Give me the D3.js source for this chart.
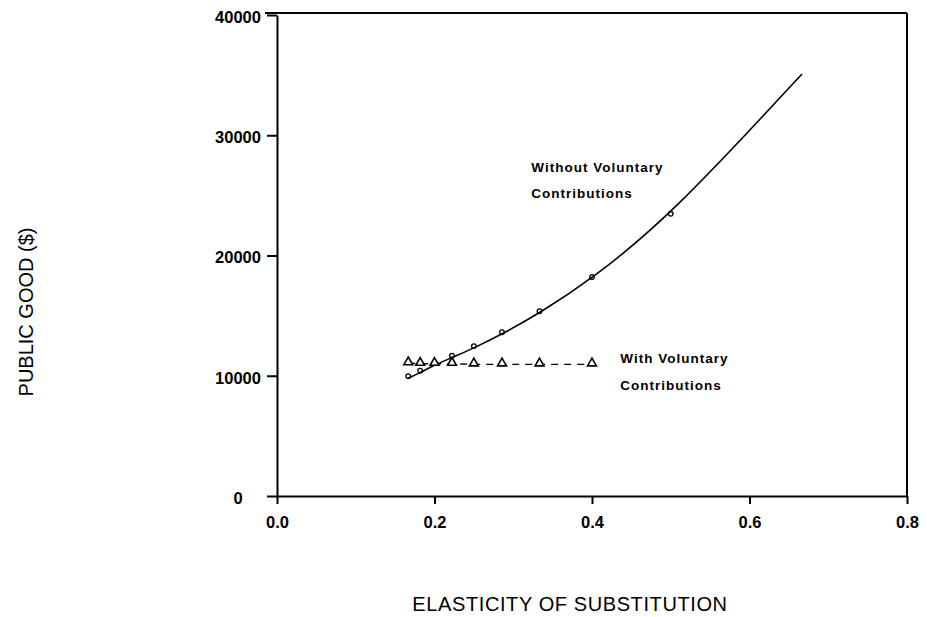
<!DOCTYPE html>
<html>
<head>
<meta charset="utf-8">
<script src="https://cdn.jsdelivr.net/npm/d3@7"></script>
<style>
  body { margin: 0; background: #fff; }
  text { font-family: "Liberation Sans", Arial, sans-serif; fill: #000; }
</style>
</head>
<body>
<svg id="chart" width="927" height="617"></svg>
<script>
// elasticity values (2/12 ... 2/3)
const elasticity = [2 / 12, 2 / 11, 2 / 10, 2 / 9, 2 / 8, 2 / 7, 2 / 6, 2 / 5, 2 / 4, 2 / 3];
const withoutVoluntary = [9800, 10250, 10900, 11500, 12300, 13450, 15200, 18050, 23300, 35100];
const withElasticity = [2 / 12, 2 / 11, 2 / 10, 2 / 9, 2 / 8, 2 / 7, 2 / 6, 2 / 5];
const withVoluntary = [11050, 11000, 11000, 11000, 10950, 10950, 10950, 10950];
const xTicks = [0, 0.2, 0.4, 0.6, 0.8];
const yTicks = [0, 10000, 20000, 30000, 40000];

const svg = d3.select("#chart");

const margin = { top: 13, right: 20, bottom: 121, left: 277 };
const width = 907 - margin.left;
const height = 496 - margin.top;

const g = svg.append("g").attr("transform", `translate(${margin.left},${margin.top})`);

const x = d3.scaleLinear().domain([0, 0.8]).range([0, width]);
const y = d3.scaleLinear().domain([0, 40000]).range([height, 2]);

// top + right frame
g.append("line")
  .attr("x1", -12).attr("x2", width)
  .attr("y1", 0).attr("y2", 0)
  .attr("stroke", "#000").attr("stroke-width", 2);
g.append("line")
  .attr("x1", width).attr("x2", width)
  .attr("y1", 0).attr("y2", height)
  .attr("stroke", "#000").attr("stroke-width", 2);

// X axis
const xAxis = g.append("g")
  .attr("transform", `translate(0,${height})`)
  .call(d3.axisBottom(x).tickValues(xTicks).tickFormat(d3.format(".1f")).tickSize(8).tickSizeOuter(0).tickPadding(12));

// Y axis
const yAxis = g.append("g")
  .call(d3.axisLeft(y).tickValues(yTicks).tickFormat(d3.format("d")).tickSize(10).tickSizeOuter(0));

[xAxis, yAxis].forEach((ax) => {
  ax.select(".domain").attr("stroke-width", 2);
  ax.selectAll(".tick line").attr("stroke-width", 2);
  ax.selectAll("text")
    .attr("font-size", 16.5)
    .attr("font-weight", "bold")
    .attr("font-family", "'Liberation Sans', Arial, sans-serif");
});
yAxis.selectAll("text").attr("text-anchor", "middle").attr("x", -39).attr("dy", "0.45em");

// axis titles
svg.append("text")
  .attr("x", 570).attr("y", 611)
  .attr("text-anchor", "middle")
  .attr("font-size", 20)
  .attr("letter-spacing", 0.6)
  .text("ELASTICITY OF SUBSTITUTION");

svg.append("text")
  .attr("transform", "translate(33,312) rotate(-90)")
  .attr("text-anchor", "middle")
  .attr("font-size", 20)
  .text("PUBLIC GOOD ($)");

// without voluntary contributions - smooth solid curve
const upper = elasticity.map((e, i) => ({ e, v: withoutVoluntary[i] }));
const lower = withElasticity.map((e, i) => ({ e, v: withVoluntary[i] }));

g.append("path")
  .datum(upper)
  .attr("fill", "none")
  .attr("stroke", "#000")
  .attr("stroke-width", 1.6)
  .attr("d", d3.line().x((d) => x(d.e)).y((d) => y(d.v)).curve(d3.curveBasis));

g.selectAll(".upper-pt")
  .data(upper.slice(0, -1))
  .enter()
  .append("circle")
  .attr("class", "upper-pt")
  .attr("cx", (d) => x(d.e))
  .attr("cy", (d) => y(d.v) - 2)
  .attr("r", 2.3)
  .attr("fill", "none")
  .attr("stroke", "#000")
  .attr("stroke-width", 1.3);

// with voluntary contributions - dashed line + triangles
g.append("path")
  .datum(lower)
  .attr("fill", "none")
  .attr("stroke", "#000")
  .attr("stroke-width", 1.4)
  .attr("stroke-dasharray", "7,6")
  .attr("d", d3.line().x((d) => x(d.e)).y((d) => y(d.v)));

const tri = d3.symbol().type(d3.symbolTriangle).size(34);
g.selectAll(".lower-pt")
  .data(lower)
  .enter()
  .append("path")
  .attr("class", "lower-pt")
  .attr("transform", (d) => `translate(${x(d.e)},${y(d.v) - 1})`)
  .attr("d", tri)
  .attr("fill", "#fff")
  .attr("stroke", "#000")
  .attr("stroke-width", 1.6);

// annotations (left edge, baseline in data units)
const notes = [
  { text: "Without Voluntary", e: 0.323, v: 26950 },
  { text: "Contributions", e: 0.323, v: 24780 },
  { text: "With Voluntary", e: 0.436, v: 11060 },
  { text: "Contributions", e: 0.436, v: 8815 }
];
g.selectAll(".note")
  .data(notes)
  .enter()
  .append("text")
  .attr("class", "note")
  .attr("x", (d) => x(d.e))
  .attr("y", (d) => y(d.v))
  .attr("font-size", 13.5)
  .attr("font-weight", "bold")
  .attr("letter-spacing", 1)
  .text((d) => d.text);
</script>
</body>
</html>
